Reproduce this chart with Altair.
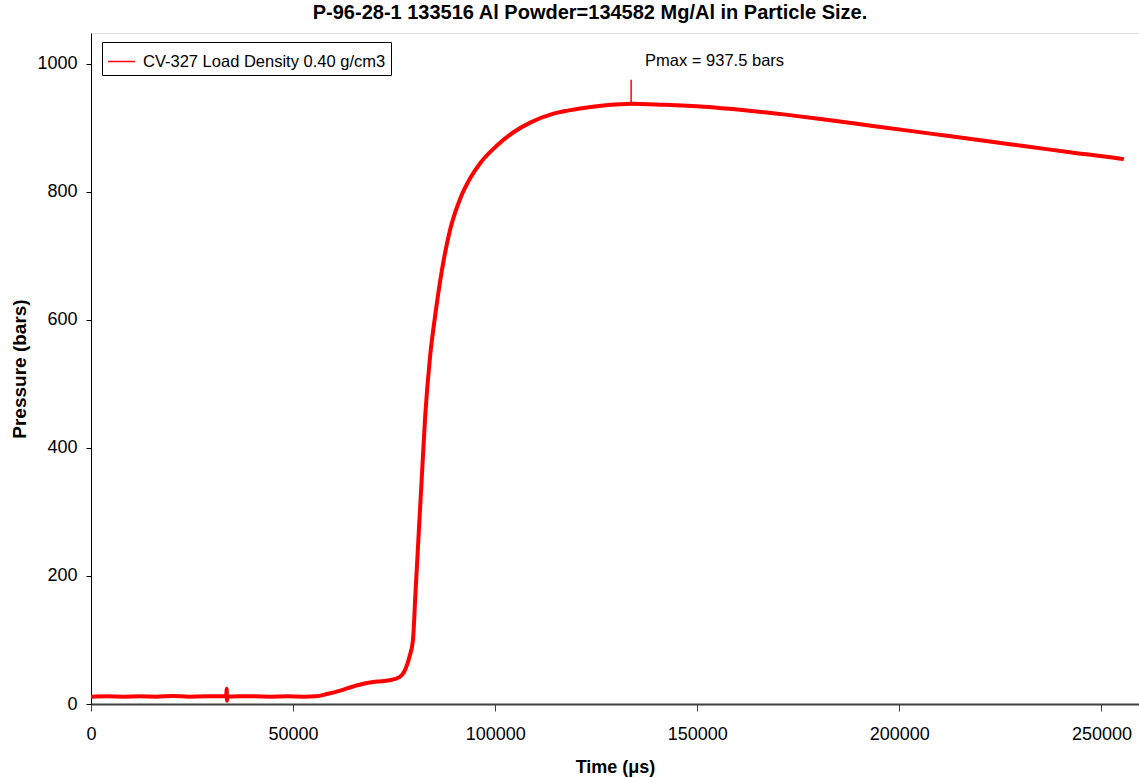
import altair as alt
import pandas as pd

# Pressure trace of the closed-vessel shot
time_us = [0, 4040, 8090, 12130, 16170, 20220, 24260, 28310, 32350, 33460, 33560,
           33660, 33760, 36390, 40440, 44480, 48520, 52570, 55600, 58630, 61660,
           64700, 67730, 70760, 73800, 76320, 77840, 78850, 79660, 80270, 81070,
           81880, 82690, 83900, 85120, 86840, 88860, 91390, 93810, 96340, 100380,
           104530, 108670, 114430, 121000, 127370, 133640, 141530, 151640, 161740,
           171850, 181960, 192070, 202180, 212290, 222400, 232510, 242620, 252730,
           255560]
pressure_bar = [11.5, 12, 11.5, 12, 11.5, 12.5, 11.5, 12, 12, 12, 24,
                5, 11.5, 12, 12, 11.5, 12, 11.5, 12, 16, 21,
                27, 32, 35, 37, 42, 55, 75, 100, 172, 265,
                358, 450, 543, 605, 678, 741, 790, 821, 845, 872,
                893, 908, 922, 930, 935, 937.5, 936, 933, 927.5,
                920.5, 912.5, 904, 895.5, 887, 878.5, 870, 861.5, 853.5,
                851]

series_name = "CV-327 Load Density 0.40 g/cm3"
chart_title = "P-96-28-1 133516 Al Powder=134582 Mg/Al in Particle Size."

# Peak marker and its label
pmax_time = 133640
pmax_value = 937.5
pmax_marker_top = 975
pmax_label = "Pmax = 937.5 bars"
pmax_label_time = 137100
pmax_label_value = 1005

x_ticks = [0, 50000, 100000, 150000, 200000, 250000]
y_ticks = [0, 200, 400, 600, 800, 1000]
x_max = 259300
y_max = 1048

FONT = "Liberation Sans"
RED = "#FF0000"

trace = pd.DataFrame({"t": time_us, "p": pressure_bar, "series": series_name})
marker = pd.DataFrame({"t": [pmax_time], "p": [pmax_value], "p2": [pmax_marker_top]})
label = pd.DataFrame({"t": [pmax_label_time], "p": [pmax_label_value], "text": [pmax_label]})

x_scale = alt.Scale(domain=[0, x_max], nice=False, zero=False)
y_scale = alt.Scale(domain=[0, y_max], nice=False, zero=False)

x_axis = alt.Axis(values=x_ticks, format="d", grid=False, tickSize=7,
                  labelFontSize=18, labelFont=FONT, labelColor="black",
                  labelPadding=14, labelFlush=False,
                  title="Time (\u03bcs)", titleFont=FONT, titleFontSize=18,
                  titleFontWeight="bold", titleColor="black", titlePadding=15,
                  domainColor="#404040", domainWidth=2, tickColor="#404040")
y_axis = alt.Axis(values=y_ticks, format="d", grid=False, tickSize=5,
                  labelFontSize=18, labelFont=FONT, labelColor="black",
                  labelPadding=9, labelFlush=False,
                  title="Pressure (bars)", titleFont=FONT, titleFontSize=19,
                  titleFontWeight="bold", titleColor="black", titlePadding=7,
                  domainColor="black", tickColor="black")

line = alt.Chart(trace).mark_line(strokeWidth=4, interpolate="monotone").encode(
    x=alt.X("t:Q", scale=x_scale, axis=x_axis),
    y=alt.Y("p:Q", scale=y_scale, axis=y_axis),
    color=alt.Color("series:N",
                    scale=alt.Scale(domain=[series_name], range=[RED]),
                    legend=alt.Legend(title=None, orient="none", legendX=11, legendY=9,
                                      strokeColor="black", fillColor="white",
                                      padding=5, symbolType="stroke",
                                      symbolSize=729, symbolStrokeWidth=1.5,
                                      labelFont=FONT, labelFontSize=16.5,
                                      labelColor="black", labelOffset=7,
                                      labelLimit=0)),
)

rule = alt.Chart(marker).mark_rule(color=RED, strokeWidth=1.5).encode(
    x="t:Q", y="p:Q", y2="p2:Q"
)

text = alt.Chart(label).mark_text(align="left", baseline="middle", font=FONT,
                                  fontSize=16.5, color="black").encode(
    x="t:Q", y="p:Q", text="text:N"
)

chart = alt.layer(line, rule, text).properties(
    width=1048, height=671,
    title=alt.TitleParams(chart_title, font=FONT, fontSize=20, fontWeight="bold",
                          color="black", anchor="middle", offset=10, dx=-25),
    autosize=alt.AutoSizeParams(type="none"),
    padding={"left": 91, "top": 33, "right": 0, "bottom": 74},
).configure_view(stroke="#808080", strokeWidth=1).configure(background="white")

chart.save("out.html", embed_options={"renderer": "svg", "actions": False})
